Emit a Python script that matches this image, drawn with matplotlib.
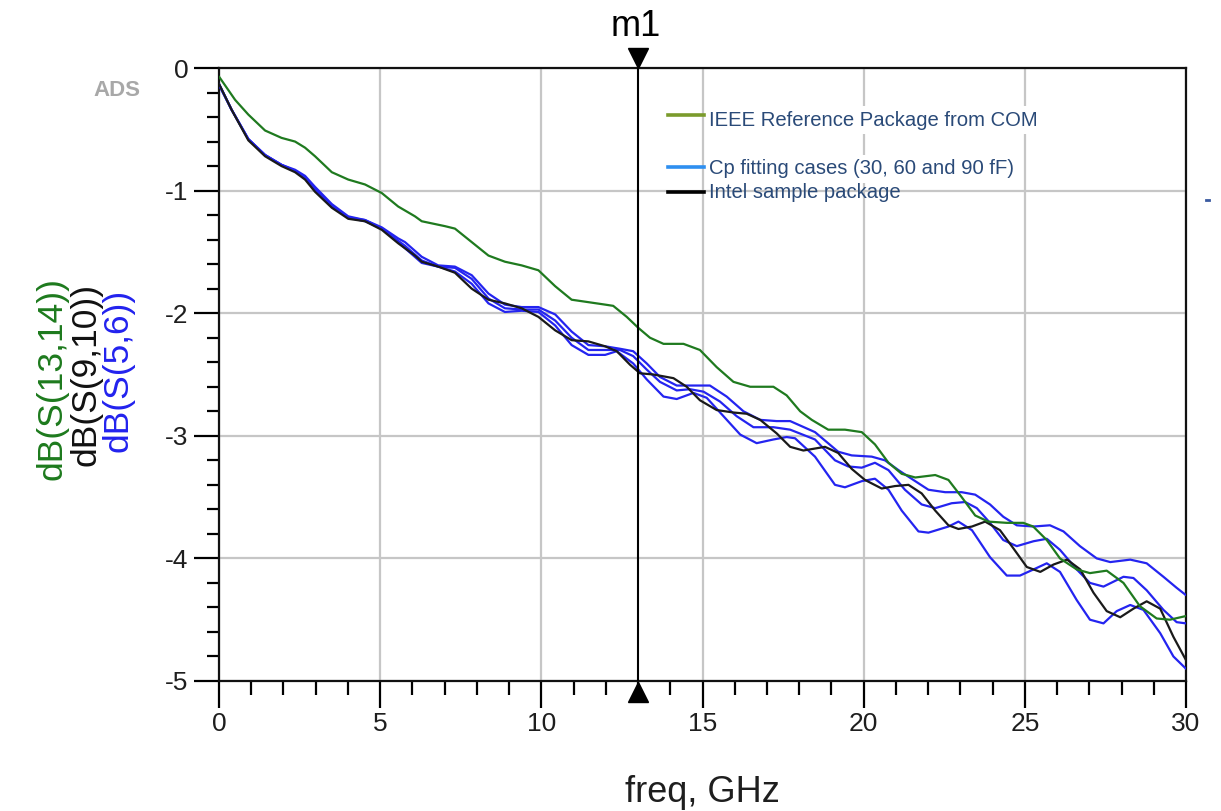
import matplotlib
matplotlib.use("Agg")
import matplotlib.pyplot as plt
from matplotlib.lines import Line2D
import matplotlib.transforms as mtransforms

plt.rcParams['font.family'] = ['Liberation Sans', 'DejaVu Sans']

# ---------------- data ----------------
f_green = [0, 0.5, 0.91, 1.43, 1.94, 2.36, 2.67, 2.98, 3.5, 4.01, 4.53, 5.05, 5.56, 6.08,
           6.29, 7.01, 7.32, 7.84, 8.36, 8.87, 9.39, 9.91, 10.43, 10.94, 11.46, 11.98,
           12.23, 12.65, 13.01, 13.37, 13.79, 14.41, 14.92, 15.44, 15.96, 16.48, 17.2, 17.61,
           18.03, 18.39, 18.9, 19.42, 19.94, 20.35, 20.77, 21.18, 21.6, 22.22, 22.63, 23.04,
           23.46, 23.87, 24.44, 24.95, 25.26, 25.68, 26.09, 26.61, 27.02, 27.54, 28.06,
           28.57, 29.09, 29.5, 30]
db_green = [-0.07, -0.26, -0.38, -0.51, -0.57, -0.60, -0.65, -0.72, -0.85, -0.91, -0.95, -1.02,
            -1.13, -1.21, -1.25, -1.29, -1.31, -1.42, -1.53, -1.58, -1.61, -1.65, -1.78, -1.89,
            -1.91, -1.93, -1.94, -2.03, -2.12, -2.20, -2.25, -2.25, -2.30, -2.44, -2.56, -2.60,
            -2.60, -2.67, -2.80, -2.87, -2.95, -2.95, -2.97, -3.07, -3.22, -3.31, -3.34, -3.32,
            -3.36, -3.50, -3.65, -3.70, -3.71, -3.71, -3.74, -3.85, -4.00, -4.09, -4.12, -4.10,
            -4.20, -4.39, -4.49, -4.50, -4.47]

f_black = [0, 0.39, 0.91, 1.43, 1.94, 2.36, 2.67, 2.98, 3.5, 4.01, 4.53, 5.05, 5.56, 6.08,
           6.29, 6.8, 7.32, 7.84, 8.36, 8.87, 9.39, 9.91, 10.43, 10.94, 11.46, 11.98, 12.34,
           12.75, 13.06, 13.48, 14.1, 14.51, 14.92, 15.44, 15.96, 16.37, 16.79, 17.3, 17.72,
           18.13, 18.8, 19.21, 19.63, 20.04, 20.56, 20.97, 21.39, 21.8, 22.22, 22.63, 22.94,
           23.36, 23.77, 24.23, 24.65, 25.06, 25.48, 25.89, 26.31, 26.72, 27.13, 27.54, 27.96,
           28.37, 28.78, 29.2, 29.61, 30]
db_black = [-0.13, -0.34, -0.59, -0.72, -0.80, -0.85, -0.91, -1.01, -1.14, -1.23, -1.25, -1.32,
            -1.43, -1.53, -1.58, -1.62, -1.67, -1.80, -1.89, -1.92, -1.96, -2.03, -2.14, -2.22,
            -2.23, -2.27, -2.31, -2.42, -2.49, -2.50, -2.53, -2.60, -2.71, -2.79, -2.81, -2.82,
            -2.87, -2.98, -3.09, -3.12, -3.09, -3.14, -3.27, -3.36, -3.43, -3.41, -3.40, -3.47,
            -3.61, -3.73, -3.76, -3.74, -3.70, -3.77, -3.92, -4.07, -4.11, -4.05, -4.01, -4.09,
            -4.28, -4.43, -4.48, -4.41, -4.35, -4.41, -4.64, -4.83]

f_blue_a = [0, 0.39, 0.91, 1.43, 1.94, 2.36, 2.67, 2.98, 3.5, 4.01, 4.53, 5.05, 5.56, 5.77,
            6.29, 6.8, 7.32, 7.84, 8.36, 8.87, 9.39, 9.91, 10.43, 10.94, 11.46, 11.98, 12.44,
            12.85, 13.27, 13.68, 14.2, 14.72, 15.23, 15.75, 16.27, 16.79, 17.3, 17.72, 18.49,
            19.21, 19.63, 20.25, 20.66, 21.08, 21.6, 22.01, 22.53, 23.04, 23.46, 23.92, 24.33,
            24.75, 25.27, 25.78, 26.2, 26.71, 27.23, 27.65, 28.27, 28.78, 29.3, 29.71, 30]
db_blue_a = [-0.13, -0.34, -0.58, -0.71, -0.79, -0.83, -0.88, -0.97, -1.11, -1.21, -1.24, -1.30,
             -1.39, -1.42, -1.54, -1.61, -1.62, -1.69, -1.84, -1.93, -1.95, -1.95, -2.01, -2.15,
             -2.26, -2.27, -2.29, -2.31, -2.41, -2.52, -2.59, -2.59, -2.59, -2.68, -2.80, -2.87,
             -2.88, -2.88, -2.97, -3.13, -3.16, -3.17, -3.20, -3.28, -3.37, -3.44, -3.46, -3.46,
             -3.48, -3.56, -3.66, -3.73, -3.74, -3.73, -3.78, -3.90, -4.00, -4.03, -4.01, -4.04,
             -4.15, -4.24, -4.30]

f_blue_b = [0, 0.39, 0.91, 1.43, 1.94, 2.36, 2.67, 2.98, 3.5, 4.01, 4.53, 5.05, 5.56, 5.77,
            6.29, 6.8, 7.32, 7.84, 8.36, 8.87, 9.39, 9.91, 10.43, 10.94, 11.46, 11.98, 12.44,
            12.85, 13.27, 13.68, 14.2, 14.61, 15.03, 15.54, 16.06, 16.58, 17.2, 17.72, 18.49,
            19.11, 19.52, 19.94, 20.35, 20.77, 21.28, 21.8, 22.22, 22.73, 23.15, 23.51, 23.92,
            24.33, 24.75, 25.27, 25.68, 26.09, 26.61, 27.02, 27.44, 28.06, 28.37, 28.78, 29.3,
            29.71, 30]
db_blue_b = [-0.13, -0.34, -0.58, -0.71, -0.79, -0.84, -0.89, -0.98, -1.12, -1.22, -1.24, -1.31,
             -1.41, -1.45, -1.57, -1.62, -1.63, -1.72, -1.88, -1.96, -1.97, -1.97, -2.06, -2.20,
             -2.30, -2.30, -2.30, -2.35, -2.46, -2.56, -2.63, -2.62, -2.64, -2.72, -2.84, -2.93,
             -2.93, -2.95, -3.03, -3.20, -3.25, -3.26, -3.22, -3.28, -3.44, -3.56, -3.59, -3.55,
             -3.54, -3.59, -3.71, -3.85, -3.90, -3.86, -3.84, -3.93, -4.09, -4.20, -4.23, -4.15,
             -4.16, -4.26, -4.42, -4.52, -4.53]

f_blue_c = [0, 0.39, 0.91, 1.43, 1.94, 2.36, 2.67, 2.98, 3.5, 4.01, 4.53, 5.05, 5.56, 5.77,
            6.29, 6.8, 7.32, 7.84, 8.36, 8.87, 9.39, 9.91, 10.43, 10.94, 11.46, 11.98, 12.34,
            12.85, 13.27, 13.79, 14.2, 14.72, 15.13, 15.65, 16.17, 16.68, 17.2, 17.61, 17.87,
            18.49, 19.11, 19.42, 19.94, 20.35, 20.77, 21.18, 21.7, 22.01, 22.63, 22.94, 23.36,
            23.92, 24.44, 24.85, 25.27, 25.68, 26.09, 26.61, 27.02, 27.44, 27.85, 28.27, 28.68,
            29.2, 29.61, 30]
db_blue_c = [-0.14, -0.34, -0.58, -0.71, -0.79, -0.84, -0.90, -0.99, -1.13, -1.22, -1.25, -1.31,
             -1.42, -1.47, -1.59, -1.62, -1.66, -1.76, -1.92, -1.99, -1.98, -1.99, -2.10, -2.26,
             -2.34, -2.34, -2.31, -2.41, -2.54, -2.68, -2.70, -2.65, -2.69, -2.84, -2.99, -3.06,
             -3.03, -3.01, -3.02, -3.17, -3.40, -3.42, -3.37, -3.35, -3.44, -3.61, -3.78, -3.79,
             -3.74, -3.70, -3.77, -3.99, -4.14, -4.14, -4.09, -4.04, -4.11, -4.34, -4.50, -4.53,
             -4.43, -4.38, -4.42, -4.61, -4.80, -4.90]

x_ticks = [0, 5, 10, 15, 20, 25, 30]
y_ticks = [0, -1, -2, -3, -4, -5]
marker_freq = 13.0
legend_labels = ["IEEE Reference Package from COM",
                 "Cp fitting cases (30, 60 and 90 fF)",
                 "Intel sample package"]
ylabel_texts = ["dB(S(13,14))", "dB(S(9,10))", "dB(S(5,6))"]

# ---------------- figure ----------------
W, H = 1221, 811
fig = plt.figure(figsize=(W / 100, H / 100), dpi=100)
fig.patch.set_facecolor('white')

def fx(x):
    return x / W

def fy(y):
    return 1 - y / H

ax = fig.add_axes([fx(219), fy(681), (1186 - 219) / W, (681 - 68) / H])

c_green = '#1f7a1f'
c_black = '#1a1a1a'
c_blue = '#2424f0'

lw = 1.6
kw = dict(lw=lw, solid_joinstyle='round', solid_capstyle='round')
ax.plot(f_blue_a, db_blue_a, color=c_blue, zorder=3, **kw)
ax.plot(f_blue_b, db_blue_b, color=c_blue, zorder=3, **kw)
ax.plot(f_blue_c, db_blue_c, color=c_blue, zorder=3, **kw)
ax.plot(f_black, db_black, color=c_black, zorder=4, **kw)
ax.plot(f_green, db_green, color=c_green, zorder=4, **kw)

ax.set_xlim(0, 30)
ax.set_ylim(-5, 0)
ax.set_xticks(x_ticks)
ax.set_yticks(y_ticks)
ax.set_xticks(range(0, 31), minor=True)
ax.set_yticks([-5 + 0.2 * i for i in range(26)], minor=True)
ax.set_xticklabels([str(v) for v in x_ticks])
ax.set_yticklabels([str(v) for v in y_ticks])

ax.grid(True, which='major', color='#c6c6c6', lw=1.6, zorder=1)
ax.set_axisbelow(True)

ax.tick_params(axis='x', which='major', direction='out', length=19.5, width=1.6,
               pad=3, labelsize=19, labelcolor='#1e1e1e')
ax.tick_params(axis='x', which='minor', direction='out', length=10, width=1.6)
ax.tick_params(axis='y', which='major', direction='out', length=18, width=1.6,
               pad=4, labelsize=19, labelcolor='#1e1e1e')
ax.tick_params(axis='y', which='minor', direction='out', length=8.6, width=1.6)

for s in ax.spines.values():
    s.set_color('#111111')
    s.set_linewidth(1.6)

# marker m1
ax.axvline(marker_freq, color='black', lw=1.5, zorder=6)
trans = mtransforms.blended_transform_factory(ax.transData, ax.transAxes)
ax.plot([marker_freq], [1 + 10 / 613], marker='v', ms=15, color='black',
        transform=trans, clip_on=False, zorder=7)
ax.plot([marker_freq], [-11 / 613], marker='^', ms=15, color='black',
        transform=trans, clip_on=False, zorder=7)
fig.text(fx(636), fy(27), 'm1', fontsize=26, ha='center', va='center', color='black')

# x label
fig.text(fx(702), fy(793), 'freq, GHz', fontsize=26, ha='center', va='center', color='#1e1e1e')

# y labels (three coloured rotated texts)
fig.text(fx(52), fy(378), ylabel_texts[0], rotation=90, fontsize=25.5, color='#1d7a1d',
         ha='center', va='center')
fig.text(fx(86), fy(374), ylabel_texts[1], rotation=90, fontsize=25.5, color='#111111',
         ha='center', va='center')
fig.text(fx(118), fy(370), ylabel_texts[2], rotation=90, fontsize=25.5, color='#2222ee',
         ha='center', va='center')

# ADS watermark
fig.text(fx(117), fy(90), 'ADS', fontsize=16, fontweight='bold', color='#a8a8a8',
         ha='center', va='center')

# custom legend inside the plot
leg_colors = ['#7b9b2c', '#2e8ff0', '#000000']
leg_y = [115, 167, 192]
txt_y = [120, 169, 193]
for i in range(3):
    fig.add_artist(Line2D([fx(668), fx(704)], [fy(leg_y[i]), fy(leg_y[i])],
                          color=leg_colors[i], lw=2.6, transform=fig.transFigure, zorder=10))
    bbox = dict(facecolor='white', edgecolor='none', pad=3) if i < 2 else None
    fig.text(fx(709), fy(txt_y[i]), legend_labels[i], fontsize=14.6, color='#2a4a78',
             ha='left', va='center', bbox=bbox, zorder=9)

# small stray mark at right edge
fig.add_artist(Line2D([fx(1206), fx(1209)], [fy(200), fy(200)], color='#3a5aa0', lw=2,
                      transform=fig.transFigure))

fig.savefig('out.png', dpi=100, facecolor='white')
